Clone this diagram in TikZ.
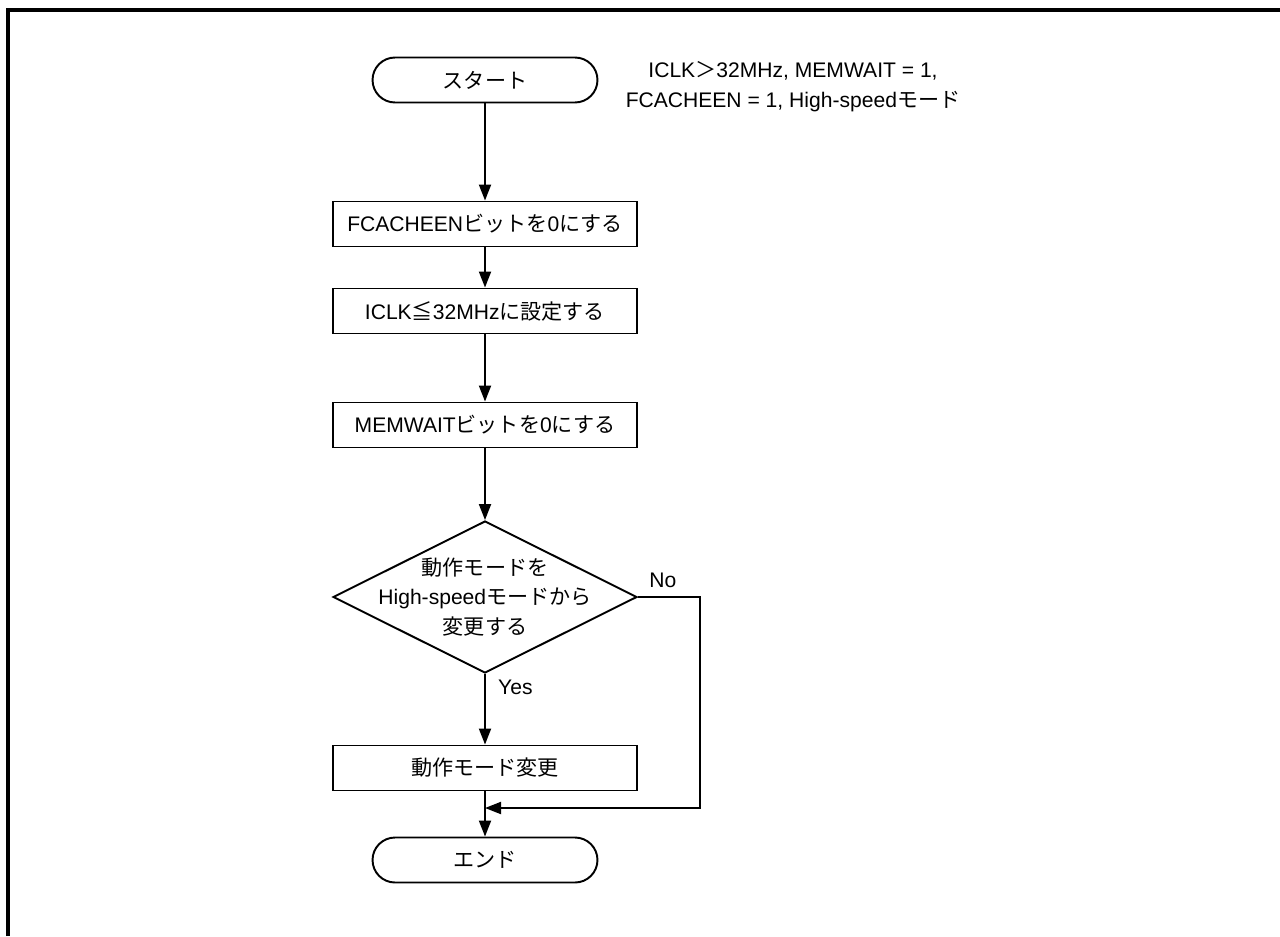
\documentclass[tikz,border=0pt]{standalone}
\usepackage{fontspec}
\setmainfont{Liberation Sans}
\newfontfamily\jpfont{Noto Sans CJK JP}
\newcommand{\jp}[1]{{\jpfont #1}}
\usetikzlibrary{shapes.geometric,arrows.meta}

\begin{document}
\begin{tikzpicture}[
    x=0.02cm, y=-0.02cm,
    every node/.style={font=\fontsize{12}{17}\selectfont},
    terminal/.style={draw, line width=1.1pt, rounded corners=0.45cm, minimum width=4.5cm, minimum height=0.9cm},
    process/.style={draw, line width=1.1pt, minimum width=6.08cm, minimum height=0.9cm},
    decision/.style={draw, line width=1.1pt, diamond, minimum width=6.08cm, minimum height=3.04cm, inner sep=0pt},
    flow/.style={line width=1.1pt, -{Triangle[length=0.32cm, width=0.24cm]}},
    frame/.style={line width=2.4pt}
]
\useasboundingbox (0,0) rectangle (1280,936);

% Frame
\draw[frame] (8,936) -- (8,10) -- (1280,10);

% Start node and note
\node[terminal] (start) at (485,80) {\jp{スタート}};
\node[align=center] (note) at (793,87)
    {ICLK\jp{＞}32MHz, MEMWAIT = 1,\\FCACHEEN = 1, High-speed\jp{モード}};

% Steps
\node[process] (fcache) at (485,224) {FCACHEEN\jp{ビットを}0\jp{にする}};
\node[process] (iclk) at (485,311) {ICLK\jp{≦}32MHz\jp{に設定する}};
\node[process] (memwait) at (485,425) {MEMWAIT\jp{ビットを}0\jp{にする}};

% Decision
\node[decision] (dec) at (485,597) {};
\node[align=center] (dectext) at (dec) {\jp{動作モードを}\\High-speed\jp{モードから}\\\jp{変更する}};

\node[process] (change) at (485,768) {\jp{動作モード変更}};
\node[terminal] (end) at (485,860) {\jp{エンド}};

\coordinate (noturn) at (700,808);
\coordinate (merge) at (485,808);

% Connectors
\draw[flow] (start) -- (fcache);
\draw[flow] (fcache) -- (iclk);
\draw[flow] (iclk) -- (memwait);
\draw[flow] (memwait) -- (dec);
\draw[flow] (dec.south) -- (change);
\draw[flow] (change) -- (end);
\draw[flow] (dec.east) -| (noturn) -- (merge);

% Labels
\node[anchor=south west] (nolabel) at ([xshift=3pt,yshift=2pt]dec.east) {No};
\node[anchor=north west] (yeslabel) at ([xshift=4pt]dec.south) {Yes};
\end{tikzpicture}
\end{document}
